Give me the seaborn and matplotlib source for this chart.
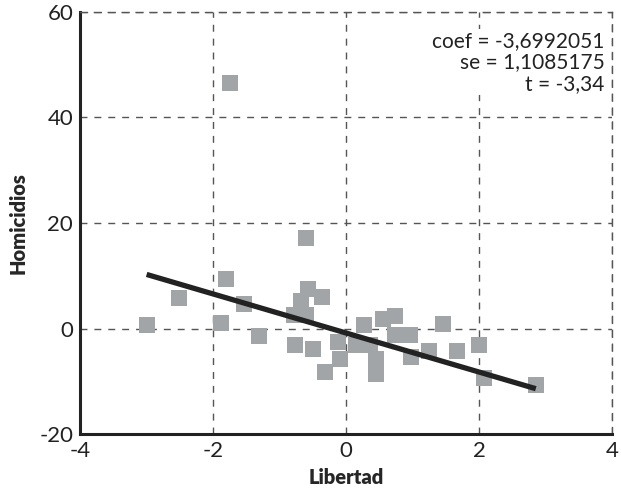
import numpy as np
import pandas as pd
import matplotlib
matplotlib.use('Agg')
import matplotlib.pyplot as plt
import seaborn as sns

# Datos (Libertad vs Homicidios)
libertad = [-3.0, -2.51, -1.81, -1.54, -1.88, -1.31, -1.75,
            -0.61, -0.58, -0.37, -0.68, -0.78, -0.61, -0.77, -0.50,
            -0.32, -0.13, -0.10, 0.26, 0.14, 0.36, 0.45, 0.45,
            0.56, 0.73, 0.73, 0.96, 0.97, 1.24, 1.45, 1.66,
            2.00, 2.07, 2.85]
homicidios = [0.6, 5.7, 9.4, 4.7, 1.1, -1.5, 46.6,
              17.2, 7.4, 6.0, 5.3, 2.5, 2.5, -3.2, -3.8,
              -8.3, -2.6, -5.7, 0.6, -3.2, -3.2, -5.7, -8.7,
              1.9, 2.3, -1.3, -1.3, -5.3, -4.2, 0.8, -4.2,
              -3.2, -9.4, -10.6]

# recta ajustada: pendiente del texto, ordenada
coef = -3.6992051
intercepto = -0.85

stats_text = 'coef = -3,6992051\nse = 1,1085175\nt = -3,34'
x_ticks = [-4, -2, 0, 2, 4]
y_ticks = [-20, 0, 20, 40, 60]

df = pd.DataFrame({'Libertad': libertad, 'Homicidios': homicidios})
x_fit = [min(libertad), max(libertad)]
fit_df = pd.DataFrame({'Libertad': x_fit,
                       'Homicidios': [intercepto + coef * v for v in x_fit]})

sns.set_style('white')
plt.rcParams['font.family'] = ['Lato', 'DejaVu Sans']
plt.rcParams['axes.unicode_minus'] = False

fig = plt.figure(figsize=(6.21, 4.90), dpi=100)
ax = fig.add_axes([0.129, 0.114, 0.857, 0.862])

sns.scatterplot(data=df, x='Libertad', y='Homicidios', marker='s', s=135,
                color='#a2a5a8', linewidth=0, ax=ax, zorder=3)
sns.lineplot(data=fit_df, x='Libertad', y='Homicidios', color='#222222',
             linewidth=3.8, ax=ax, zorder=4, solid_capstyle='butt')

ax.set_xlim(-4, 4)
ax.set_ylim(-20, 60)
ax.set_xticks(x_ticks)
ax.set_yticks(y_ticks)
ax.tick_params(length=0, labelsize=16, colors='#222222', pad=5)

ax.grid(True, linestyle=(0, (5, 5)), color='#555555', linewidth=1.0)
ax.set_axisbelow(True)

for side in ['left', 'bottom']:
    ax.spines[side].set_color('#222222')
    ax.spines[side].set_linewidth(2.2)
for side in ['top', 'right']:
    ax.spines[side].set_color('#555555')
    ax.spines[side].set_linewidth(1.0)
    ax.spines[side].set_linestyle((0, (5, 5)))

ax.set_xlabel('Libertad', fontsize=14.5, fontweight='heavy', labelpad=5)
ax.set_ylabel('Homicidios', fontsize=14.5, fontweight='heavy', labelpad=8)

ax.text(0.985, 0.955, stats_text, transform=ax.transAxes, ha='right', va='top',
        fontsize=15, color='#222222', linespacing=1.1,
        bbox=dict(facecolor='white', edgecolor='none', pad=1))

fig.savefig('out.png', dpi=100)
